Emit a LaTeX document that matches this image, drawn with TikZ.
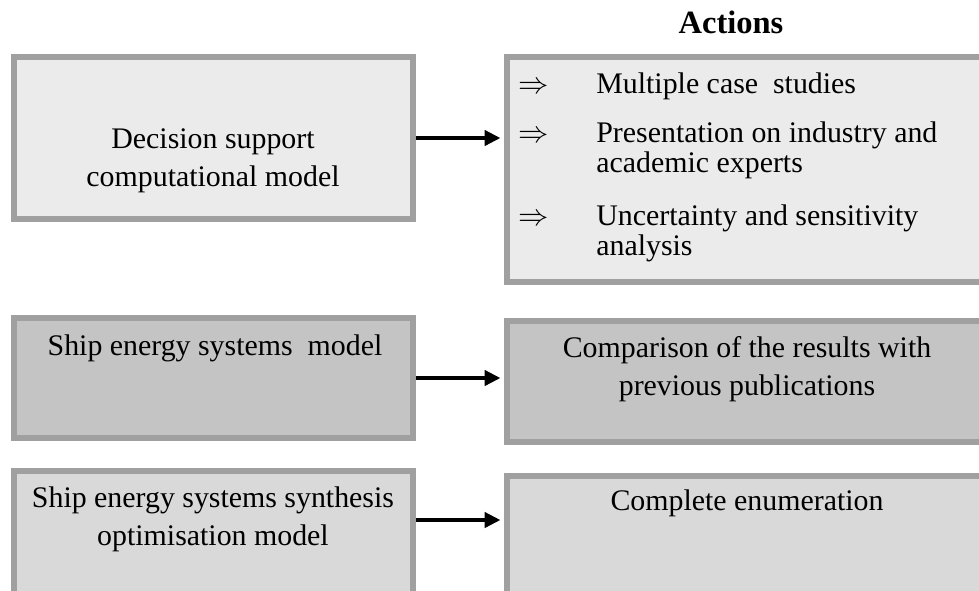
\documentclass[tikz,border=0pt]{standalone}
\usepackage{fontspec}
\setmainfont{Liberation Serif}
\usetikzlibrary{arrows.meta, positioning}

\definecolor{rimgrey}{HTML}{A0A0A0}
\definecolor{paleface}{HTML}{EBEBEB}
\definecolor{darkface}{HTML}{C4C4C4}
\definecolor{midface}{HTML}{D9D9D9}

\begin{document}
\begin{tikzpicture}[
    box/.style={rectangle, draw=rimgrey, line width=3.4pt, minimum width=7.98cm},
    actbox/.style={box, minimum width=9.6cm},
    txt/.style={font=\fontsize{17}{21.5}\selectfont, align=center, inner sep=0pt, anchor=base},
    item/.style={font=\fontsize{17}{17}\selectfont, align=left, inner sep=0pt, anchor=base west},
    arrow/.style={-{Triangle[length=9pt,width=8.5pt]}, line width=2.8pt, shorten >=2pt}
]
\useasboundingbox (0,0) rectangle (19.58,-11.8);

% models on the left, actions on the right
\node[box, fill=paleface, minimum height=3.24cm] (dss) at (4.27,-2.76) {};
\node[actbox, fill=paleface, minimum height=4.50cm] (act1) at (14.94,-3.39) {};
\node[box, fill=darkface, minimum height=2.40cm] (ses) at (4.27,-7.56) {};
\node[actbox, fill=darkface, minimum height=2.42cm] (act2) at (14.94,-7.63) {};
\node[box, fill=midface, minimum height=2.92cm] (syn) at (4.27,-10.88) {};
\node[actbox, fill=midface, minimum height=2.82cm] (act3) at (14.94,-10.93) {};

\node[font=\fontsize{18.5}{20}\selectfont\bfseries, anchor=base, inner sep=0pt] (head) at (14.62,-0.66) {Actions};

% base anchor sits on the last line
\node[txt] (dsstxt) at (4.26,-3.72) {Decision support\\computational model};
\node[txt] (sestxt) at (4.30,-7.10) {Ship energy systems\ \ model};
\node[txt] (syntxt) at (4.26,-10.90) {Ship energy systems synthesis\\optimisation model};
\node[txt] (act2txt) at (14.94,-7.90) {Comparison of the results with\\previous publications};
\node[txt] (act3txt) at (14.94,-10.20) {Complete enumeration};

% bullet list of the first action box
\node[item] (b1) at (10.36,-1.86) {$\Rightarrow$};
\node[item] (b2) at (10.36,-2.84) {$\Rightarrow$};
\node[item] (b3) at (10.36,-4.50) {$\Rightarrow$};
\node[item] (i1) at (11.92,-1.86) {Multiple case\ \ studies};
\node[item] (i2) at (11.92,-3.44) {Presentation on industry and\\academic experts};
\node[item] (i3) at (11.92,-5.10) {Uncertainty and sensitivity\\analysis};

\coordinate (synout) at ([yshift=0.48cm]syn.east);
\draw[arrow] (dss.east) -- (dss.east -| act1.west);
\draw[arrow] (ses.east) -- (ses.east -| act2.west);
\draw[arrow] (synout) -- (synout -| act3.west);

\end{tikzpicture}
\end{document}
